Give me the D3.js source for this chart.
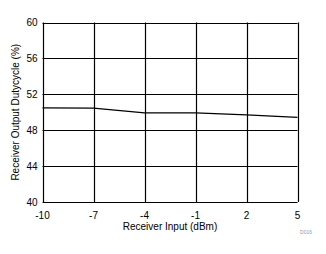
<!DOCTYPE html>
<html>
<head>
<meta charset="utf-8">
<script src="https://cdn.jsdelivr.net/npm/d3@7"></script>
<style>
  body { margin: 0; background: #fff; }
  text { font-family: "Liberation Sans", Arial, sans-serif; }
</style>
</head>
<body>
<svg id="chart" width="326" height="254"></svg>
<script>
const inputs = [-10, -7, -4, -1, 2, 5];
const duty = [50.49, 50.47, 49.93, 49.93, 49.71, 49.44];
const xTicks = [-10, -7, -4, -1, 2, 5];
const yTicks = [40, 44, 48, 52, 56, 60];

const margin = { top: 22.5, left: 42.5, right: 28.5, bottom: 52 };
const width = 326, height = 254;

const svg = d3.select("#chart");

const x = d3.scaleLinear().domain([-10, 5]).range([margin.left, width - margin.right]);
const y = d3.scaleLinear().domain([40, 60]).range([height - margin.bottom + 0, margin.top]);

// grid
svg.append("g")
  .selectAll("line")
  .data(yTicks)
  .join("line")
  .attr("x1", x(-10)).attr("x2", x(5))
  .attr("y1", d => Math.round(y(d)) + 0.5).attr("y2", d => Math.round(y(d)) + 0.5)
  .attr("stroke", "#000").attr("stroke-width", 1.2);

svg.append("g")
  .selectAll("line")
  .data(xTicks)
  .join("line")
  .attr("y1", y(40)).attr("y2", y(60))
  .attr("x1", d => Math.round(x(d)) + 0.5).attr("x2", d => Math.round(x(d)) + 0.5)
  .attr("stroke", "#000").attr("stroke-width", 1.2);

// tick labels
svg.append("g")
  .selectAll("text")
  .data(yTicks)
  .join("text")
  .attr("x", margin.left - 5)
  .attr("y", d => y(d) + 3.5)
  .attr("text-anchor", "end")
  .attr("font-size", 10)
  .text(d => d);

svg.append("g")
  .selectAll("text")
  .data(xTicks)
  .join("text")
  .attr("x", d => x(d))
  .attr("y", y(40) + 17)
  .attr("text-anchor", "middle")
  .attr("font-size", 10)
  .text(d => d);

// data line
const line = d3.line().x((d, i) => x(inputs[i])).y(d => y(d));
svg.append("path")
  .datum(duty)
  .attr("d", line)
  .attr("fill", "none")
  .attr("stroke", "#000")
  .attr("stroke-width", 1.2);

// axis titles
svg.append("text")
  .attr("x", x(-2.5))
  .attr("y", y(40) + 28)
  .attr("text-anchor", "middle")
  .attr("font-size", 10)
  .text("Receiver Input (dBm)");

svg.append("text")
  .attr("transform", `translate(19, ${y(50)}) rotate(-90)`)
  .attr("text-anchor", "middle")
  .attr("font-size", 10)
  .text("Receiver Output Dutycycle (%)");

svg.append("text")
  .attr("x", 312)
  .attr("y", 234)
  .attr("text-anchor", "end")
  .attr("font-size", 5)
  .attr("fill", "#999")
  .text("D016");
</script>
</body>
</html>
